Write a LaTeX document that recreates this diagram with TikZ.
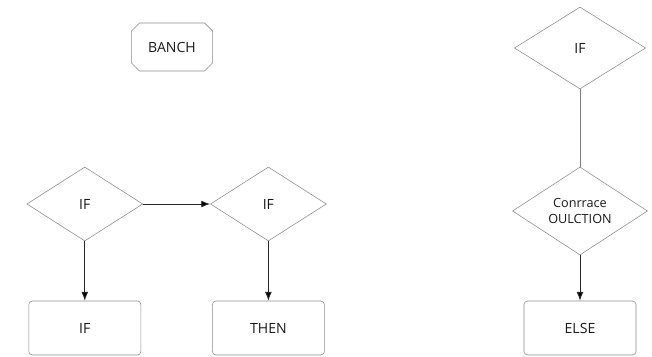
\documentclass[tikz,border=0pt]{standalone}
\usepackage{fontspec}
\setmainfont{Open Sans}
\usetikzlibrary{shapes.geometric,shapes.misc,arrows.meta}
\begin{document}
\begin{tikzpicture}[
  decision/.style={shape=diamond, draw=black!45, thin, fill=white, inner sep=0pt, text=black!90},
  block/.style={shape=rectangle, rounded corners=2.5pt, draw=black!45, thin, fill=white, minimum width=2.8cm, minimum height=1.35cm, text=black!90},
  link/.style={-{Latex[length=2.2mm,width=1.7mm]}, draw=black!85, semithick},
  plain/.style={-, draw=black!50, semithick}]
\useasboundingbox (0,0) rectangle (16.3,-8.925);
\node[shape=chamfered rectangle, chamfered rectangle sep=0.1cm, draw=black!45, thin, minimum width=2.03cm, minimum height=1.2cm, text=black!90] (banch) at (4.3,-1.175) {BANCH};
\node[decision, minimum width=3.28cm, minimum height=2.05cm] (topif) at (14.5,-1.2) {IF};
\node[decision, minimum width=3.375cm, minimum height=2.1cm, font=\small, align=center] (cond) at (14.5,-5.275) {Conrrace\\OULCTION};
\node[decision, minimum width=2.9cm, minimum height=1.85cm] (if1) at (2.12,-5.1) {IF};
\node[decision, minimum width=2.9cm, minimum height=1.85cm] (if2) at (6.71,-5.1) {IF};
\node[block] (ifbox) at (2.12,-8.2) {IF};
\node[block] (then) at (6.71,-8.2) {THEN};
\node[block] (else) at (14.5,-8.2) {ELSE};
\path [link] (if1) edge (if2);
\path [link] (if1) edge (ifbox);
\path [link] (if2) edge (then);
\path [plain] (topif) edge (cond);
\path [link] (cond) edge (else);
\end{tikzpicture}
\end{document}
